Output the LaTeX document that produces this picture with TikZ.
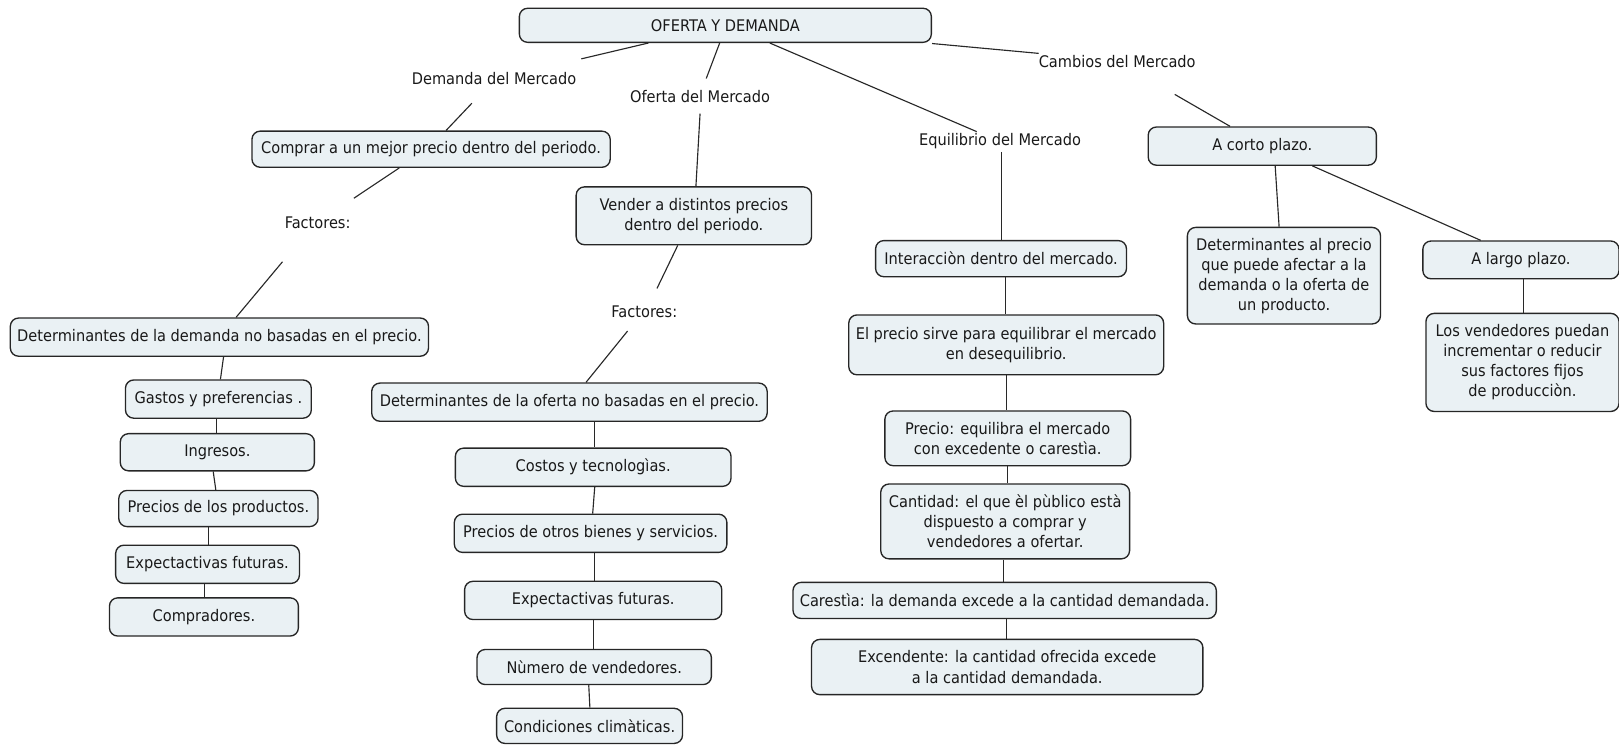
\documentclass[tikz,border=0pt]{standalone}
\usepackage{fontspec}
\setmainfont[FakeStretch=0.91]{DejaVu Sans}
\usetikzlibrary{calc}
\definecolor{boxfill}{RGB}{234,241,244}
\definecolor{linecol}{RGB}{40,40,40}
\definecolor{txt}{RGB}{25,25,25}
\tikzset{
  cbox/.style={draw=black!85, line width=1.3pt, rounded corners=8pt, fill=boxfill,
    align=center, inner sep=2pt, text=txt},
  lbl/.style={inner sep=1pt, text=txt},
  conn/.style={draw=linecol, line width=1.1pt}
}
\begin{document}
\begin{tikzpicture}[x=1pt,y=-1pt,font=\fontsize{15.5pt}{19.4pt}\selectfont]
\useasboundingbox (0,0) rectangle (1568,721);
% nodes
\node[cbox, minimum width=399pt, minimum height=33pt] (root) at (702.5,24.5) {OFERTA Y DEMANDA};
\node[lbl] (dem) at (478.5,76) {Demanda del Mercado};
\node[lbl] (ofe) at (678,93.6) {Oferta del Mercado};
\node[lbl] (equ) at (968.5,136.3) {Equilibrio del Mercado};
\node[lbl] (cam) at (1082,59.7) {Cambios del Mercado};
\node[cbox, minimum width=347pt, minimum height=35pt] (comprar) at (417.5,144.5) {Comprar a un mejor precio dentro del periodo.};
\node[lbl] (fac1) at (307.6,215.7) {Factores:};
\node[cbox, minimum width=228pt, minimum height=56pt] (vender) at (672,209) {Vender a distintos precios\\dentro del periodo.};
\node[lbl] (fac2) at (624,302) {Factores:};
\node[cbox, minimum width=405pt, minimum height=37pt] (detdem) at (212.5,326.5) {Determinantes de la demanda no basadas en el precio.};
\node[cbox, minimum width=180pt, minimum height=37pt] (gastos) at (211.5,386.5) {Gastos y preferencias .};
\node[cbox, minimum width=188pt, minimum height=36pt] (ingresos) at (210.5,438) {Ingresos.};
\node[cbox, minimum width=193pt, minimum height=35pt] (precios) at (211.5,492.5) {Precios de los productos.};
\node[cbox, minimum width=178pt, minimum height=37pt] (expect1) at (201,546.5) {Expectactivas futuras.};
\node[cbox, minimum width=183pt, minimum height=37pt] (compr) at (197.5,597.5) {Compradores.};
\node[cbox, minimum width=383pt, minimum height=37pt] (detofe) at (551.5,389.5) {Determinantes de la oferta no basadas en el precio.};
\node[cbox, minimum width=267pt, minimum height=37pt] (costos) at (574.5,452.5) {Costos y tecnologìas.};
\node[cbox, minimum width=264pt, minimum height=37pt] (potros) at (572,516.5) {Precios de otros bienes y servicios.};
\node[cbox, minimum width=249pt, minimum height=37pt] (expect2) at (574.5,581.5) {Expectactivas futuras.};
\node[cbox, minimum width=227pt, minimum height=34pt] (numero) at (575.5,646) {Nùmero de vendedores.};
\node[cbox, minimum width=180pt, minimum height=34pt] (condic) at (571,703) {Condiciones climàticas.};
\node[cbox, minimum width=243pt, minimum height=35pt] (interac) at (969.5,250.5) {Interacciòn dentro del mercado.};
\node[cbox, minimum width=305pt, minimum height=58pt] (elprecio) at (974.5,334) {El precio sirve para equilibrar el mercado\\en desequilibrio.};
\node[cbox, minimum width=238pt, minimum height=53pt] (precio) at (976,424.5) {Precio: equilibra el mercado\\con excedente o carestìa.};
\node[cbox, minimum width=241pt, minimum height=72.5pt] (cantidad) at (973.5,505) {Cantidad: el que èl pùblico està\\dispuesto a comprar y\\vendedores a ofertar.};
\node[cbox, minimum width=410pt, minimum height=35pt] (carestia) at (973,581.5) {Carestìa: la demanda excede a la cantidad demandada.};
\node[cbox, minimum width=379pt, minimum height=53.5pt] (excend) at (975.5,646) {Excendente: la cantidad ofrecida excede\\a la cantidad demandada.};
\node[cbox, minimum width=221pt, minimum height=37pt] (corto) at (1222.5,141.5) {A corto plazo.};
\node[cbox, minimum width=187pt, minimum height=93.5pt] (detpre) at (1243.5,267) {Determinantes al precio\\que puede afectar a la\\demanda o la oferta de\\un producto.};
\node[cbox, minimum width=190pt, minimum height=36.6pt] (largo) at (1473,251.7) {A largo plazo.};
\node[cbox, minimum width=187pt, minimum height=95pt] (vended) at (1474.5,351) {Los vendedores puedan\\incrementar o reducir\\sus factores fijos\\de producciòn.};
% connectors
\draw[conn] ($(root.south)+(-74.5,0)$) -- ($(dem.center)+(84.5,-19)$);
\draw[conn] ($(dem.center)+(-21.5,24)$) -- ($(comprar.north)+(14.5,0)$);
\draw[conn] ($(root.south)+(-5.5,0)$) -- ($(ofe.center)+(6,-17.6)$);
\draw[conn] ($(ofe.center)+(0,16.4)$) -- ($(vender.north)+(2,0)$);
\draw[conn] ($(root.south)+(43,0)$) -- ($(equ.center)+(-22.5,-8.8)$);
\draw[conn] ($(equ.center)+(1.5,10.7)$) -- ($(interac.north)+(0.5,0)$);
\draw[conn] ($(root.south east)+(0,0.5)$) -- ($(cam.center)+(-76,-8)$);
\draw[conn] ($(cam.center)+(55.7,31.7)$) -- ($(corto.north)+(-31.2,0)$);
\draw[conn] ($(corto.south)+(12.5,0)$) -- ($(detpre.north)+(-4.7,0)$);
\draw[conn] ($(corto.south)+(48.5,0)$) -- ($(largo.north)+(-39,0)$);
\draw[conn] ($(largo.south)+(2.5,0)$) -- ($(vended.north)+(1,0)$);
\draw[conn] ($(interac.south)+(4,0)$) -- ($(elprecio.north)+(-1,0)$);
\draw[conn] ($(elprecio.south)+(0.5,0)$) -- ($(precio.north)+(-1,0)$);
\draw[conn] ($(precio.south)+(-0.5,0)$) -- ($(cantidad.north)+(2,0)$);
\draw[conn] ($(cantidad.south)+(-1.5,0)$) -- ($(carestia.north)+(-1,0)$);
\draw[conn] ($(carestia.south)+(2,0)$) -- ($(excend.north)+(-0.5,0)$);
\draw[conn] ($(comprar.south)+(-30.8,0)$) -- ($(fac1.center)+(35.1,-23.7)$);
\draw[conn] ($(fac1.center)+(-34,37.8)$) -- ($(detdem.north)+(16.1,0)$);
\draw[conn] ($(detdem.south)+(4,0)$) -- ($(gastos.north)+(2,0)$);
\draw[conn] ($(gastos.south)+(-2,0)$) -- ($(ingresos.north)+(-1,0)$);
\draw[conn] ($(ingresos.south)+(-4,0)$) -- ($(precios.north)+(-2.5,0)$);
\draw[conn] ($(precios.south)+(-9.5,0)$) -- ($(expect1.north)+(1,0)$);
\draw[conn] ($(expect1.south)+(-3,0)$) -- ($(compr.north)+(0.5,0)$);
\draw[conn] ($(vender.south)+(-15.6,0)$) -- ($(fac2.center)+(12.3,-22.7)$);
\draw[conn] ($(fac2.center)+(-16.2,18.6)$) -- ($(detofe.north)+(16,0)$);
\draw[conn] ($(detofe.south)+(24,0)$) -- ($(costos.north)+(1,0)$);
\draw[conn] ($(costos.south)+(1.5,0)$) -- ($(potros.north)+(2,0)$);
\draw[conn] ($(potros.south)+(3.5,0)$) -- ($(expect2.north)+(1,0)$);
\draw[conn] ($(expect2.south)+(0.3,0)$) -- ($(numero.north)+(-0.7,0)$);
\draw[conn] ($(numero.south)+(-5.3,0)$) -- ($(condic.north)+(0.3,0)$);
\end{tikzpicture}
\end{document}
